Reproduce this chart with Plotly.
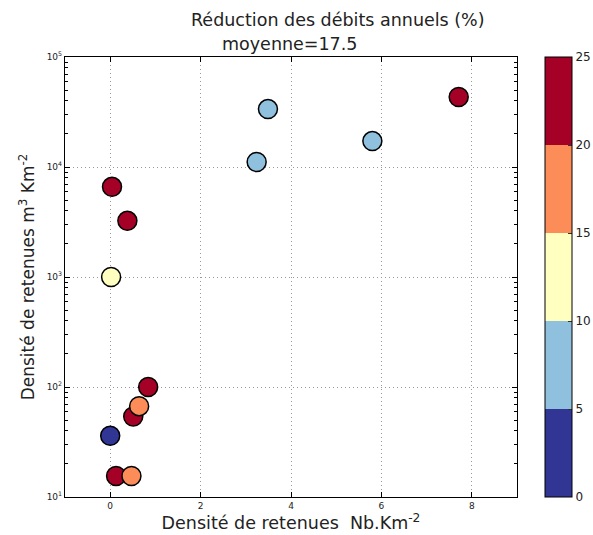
import plotly.graph_objects as go

# Data
densite_nb = [0.00, 0.13, 0.47, 0.51, 0.64, 0.84, 0.02, 0.38, 0.04, 3.24, 3.49, 5.80, 7.71]
densite_m3 = [36, 15.5, 15.5, 54, 67, 100, 1000, 3240, 6600, 11100, 33600, 17200, 43300]
reduction = [3, 24, 17, 23, 18, 25, 12, 26, 27, 7, 8, 9, 28.5]

cbar_ticks = [0, 5, 10, 15, 20, 25]
y_ticks = [10, 100, 1000, 10000, 100000]
y_ticktext = ["10<sup>1</sup>", "10<sup>2</sup>", "10<sup>3</sup>", "10<sup>4</sup>", "10<sup>5</sup>"]
x_ticks = [0, 2, 4, 6, 8]

bin_colors = ["#313695", "#8fc1de", "#ffffbf", "#fc8d59", "#a50026"]
colorscale = []
for i, c in enumerate(bin_colors):
    colorscale.append([i / 5, c])
    colorscale.append([(i + 1) / 5, c])

minor_vals = [m * 10 ** e for e in range(1, 5) for m in range(2, 10)]

fig = go.Figure()
fig.add_trace(go.Scatter(
    x=densite_nb, y=densite_m3, mode="markers",
    marker=dict(
        size=19, color=reduction, cmin=0, cmax=25, colorscale=colorscale,
        line=dict(color="black", width=1.5),
        colorbar=dict(
            tickvals=cbar_ticks, ticks="inside", ticklen=4, tickcolor="#333",
            thickness=27, len=440, lenmode="pixels", x=1.062, xanchor="left",
            y=0.5, yanchor="middle", outlinewidth=1, outlinecolor="black",
            tickfont=dict(size=12, color="#222", family="DejaVu Sans"),
            xpad=0, ypad=0,
        ),
    ),
    showlegend=False,
))

axis_common = dict(
    showline=True, linecolor="black", linewidth=1.2, mirror="ticks",
    ticks="inside", tickcolor="black", ticklen=5, automargin=False,
    showgrid=True, gridcolor="#999999", griddash="1px,3px", gridwidth=1,
    zeroline=False, tickfont=dict(size=9, color="#222", family="DejaVu Sans"),
)

fig.update_xaxes(range=[-1, 9], tickvals=x_ticks, **axis_common,
                 title=dict(text="Densité de retenues  Nb.Km<sup>-2</sup>",
                            font=dict(size=17.5, color="#222", family="DejaVu Sans"), standoff=5))
fig.update_yaxes(type="log", range=[1, 5], tickvals=y_ticks, ticktext=y_ticktext, **axis_common,
                 minor=dict(tickvals=minor_vals, ticks="inside", ticklen=2.5, tickcolor="black", showgrid=False),
                 title=dict(text="Densité de retenues m<sup>3</sup> Km<sup>-2</sup>",
                            font=dict(size=17, color="#222", family="DejaVu Sans"), standoff=7))

fig.add_annotation(text="Réduction des débits annuels (%)", xref="paper", yref="paper",
                   x=0.603, y=1.0, yshift=37, xanchor="center", yanchor="middle", showarrow=False,
                   font=dict(size=17.5, color="#222", family="DejaVu Sans"))
fig.add_annotation(text="moyenne=17.5", xref="paper", yref="paper",
                   x=0.497, y=1.0, yshift=13, xanchor="center", yanchor="middle", showarrow=False,
                   font=dict(size=17.5, color="#222", family="DejaVu Sans"))

fig.update_layout(
    width=593, height=535,
    margin=dict(l=65, r=76, t=57, b=38, autoexpand=False),
    plot_bgcolor="white", paper_bgcolor="white",
    font=dict(family="DejaVu Sans"),
)

# Remove the default 8px page margin so the figure fills the window exactly.
fig.write_html("out.html", config={"displayModeBar": False},
               post_script="document.body.style.margin='0';document.body.style.overflow='hidden';")
